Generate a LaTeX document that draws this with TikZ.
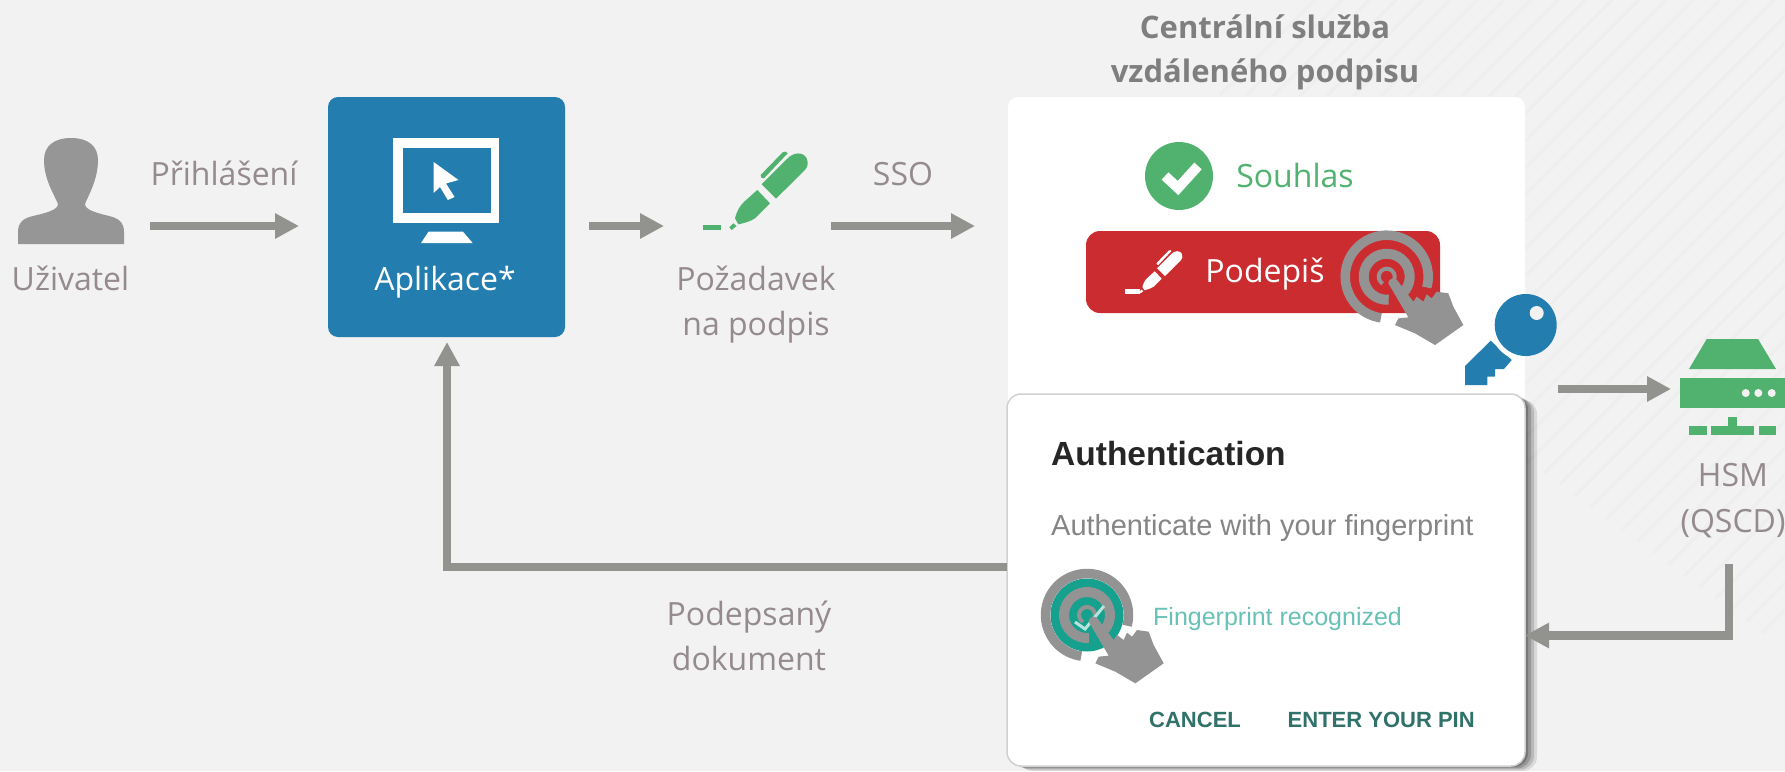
\documentclass[tikz,border=0pt]{standalone}
\usepackage{fontspec}
\usetikzlibrary{arrows.meta}
\setmainfont{Open Sans}
\newfontfamily\uifont{Liberation Sans}
\definecolor{bgc}{HTML}{F2F2F2}
\definecolor{stripec}{HTML}{EEEEEE}
\definecolor{arrowc}{HTML}{92938F}
\definecolor{labelc}{HTML}{958A8E}
\definecolor{blueb}{HTML}{237DAE}
\definecolor{greenb}{HTML}{51B26F}
\definecolor{redb}{HTML}{CB2C30}
\definecolor{personc}{HTML}{969696}
\definecolor{touchc}{HTML}{939393}
\definecolor{tealc}{HTML}{16A08E}
\definecolor{titlec}{HTML}{7F7F7F}
\tikzset{
  lab/.style={anchor=base,inner sep=0pt,text=labelc,font=\fontsize{32}{40}\selectfont},
  arr/.style={draw=arrowc,line width=8.5pt,miter limit=10,-{Triangle[length=24pt,width=24pt]}},
  ring/.style={draw=touchc,line width=#1},
  titletext/.style={anchor=base,inner sep=0pt,text=titlec,font=\fontsize{31}{40}\selectfont\bfseries},
  dlgtext/.style={anchor=base west,inner sep=0pt},
}
\newcommand{\PenIcon}[1]{%
  \fill[#1] (362,225) -- (428,157) .. controls (434,153) and (441,154) .. (443,160) -- (372,235) .. controls (366,237) and (361,232) .. (362,225) -- cycle;
  \fill[#1] (365,253) -- (440,178) .. controls (460,155) and (490,155) .. (500,175) .. controls (506,190) and (503,200) .. (495,210) -- (408,296) -- cycle;
  \fill[#1] (352,270) -- (390,310) -- (345,355) .. controls (330,365) and (310,370) .. (295,373) -- (285,355) .. controls (290,335) and (300,315) .. (315,303) -- cycle;
  \fill[#1] (268,382) -- (280,370) -- (290,378) -- (275,390) -- cycle;
  \fill[#1] (190,375) rectangle (243,390);
}
\newcommand{\TouchRings}[2]{%
  \begin{scope}[shift={(#1,#2)}]
    \draw[ring=9.5pt] (15:41.5) arc[start angle=15,end angle=-262,radius=41.5];
    \draw[ring=10pt] (40:23) arc[start angle=40,end angle=-275,radius=23];
    \draw[ring=4pt] (20:8) arc[start angle=20,end angle=-240,radius=8];
  \end{scope}%
}
\newcommand{\TouchHand}[2]{%
  \begin{scope}[shift={(#1,#2)},scale=0.3333]
    \fill[touchc] (5,20) .. controls (6,10) and (12,5) .. (20,5) .. controls (27,5) and (32,10) .. (35,15) -- (80,75) -- (90,60) -- (110,75) -- (120,53) -- (135,65) -- (150,45) -- (185,50) -- (200,90) -- (230,145) -- (145,205) -- (85,170) -- (25,145) -- (35,125) -- (65,122) -- cycle;
  \end{scope}%
}
\begin{document}
\begin{tikzpicture}[x=1pt,y=-1pt]
\useasboundingbox (0,0) rectangle (1785,771);
\fill[bgc] (0,0) rectangle (1785,771);
% background stripes
\begin{scope}
  \clip (1220,0) -- (1785,0) -- (1785,650) -- (1540,470) -- (1220,470) -- cycle;
  \foreach \c in {1315,1342,...,2420}{
    \draw[stripec,line width=3pt] (\c,0) -- (\c-800,800);
  }
\end{scope}

% ---- user
\fill[personc] (18,244) -- (18,232) .. controls (18,222) and (24,218) .. (33,216) .. controls (46,213) and (58,210) .. (58,204)
  .. controls (55,196) and (44,180) .. (44,160) .. controls (44,146) and (54,138) .. (71,138)
  .. controls (88,138) and (98,146) .. (98,160) .. controls (98,180) and (88,196) .. (85,204)
  .. controls (85,210) and (97,213) .. (109,216) .. controls (118,218) and (124,222) .. (124,232) -- (124,244) -- cycle;
\node[lab] (uzivatel) at (70.5,290.7) {Uživatel};
\node[lab] (prihlaseni) at (224,185) {Přihlášení};

% ---- application
\fill[blueb,rounded corners=10pt] (328,97) rectangle (565,337);
\fill[white] (393,138) rectangle (499,223);
\fill[blueb] (403,148) rectangle (491,213);
\fill[white] (433.6,162) -- (458.5,180) -- (446,183.5) -- (454.6,197) -- (447.8,200) -- (440,187) -- (433.6,193) -- cycle;
\fill[white] (428.6,231.7) -- (463,231.7) -- (472.6,243) -- (421,243) -- cycle;
\node[lab,text=white] (aplikace) at (445,290) {Aplikace*};

% ---- request
\begin{scope}[shift={(640,100)},scale=0.3333]
  \PenIcon{greenb}
\end{scope}
\node[lab] (pozadavek) at (756,290.5) {Požadavek};
\node[lab] (napodpis) at (756,335) {na podpis};
\node[lab] (sso) at (903,185) {SSO};

% ---- central service card
\node[titletext] (title1) at (1265,38) {Centrální služba};
\node[titletext] (title2) at (1265,82) {vzdáleného podpisu};
\fill[white,rounded corners=10pt] (1008,97) rectangle (1525,500);

\fill[greenb] (1179,176) circle[radius=34];
\draw[white,line width=10pt] (1165,176) -- (1178,188) -- (1198,166);
\node[lab,text=greenb] (souhlas) at (1295,187) {Souhlas};

\fill[redb,rounded corners=14pt] (1086,231) rectangle (1440,313);
\begin{scope}[shift={(1090.2,221.8)},scale=0.1833]
  \PenIcon{white}
\end{scope}
\fill[white] (1125,289) rectangle (1140,293.6);
\node[lab,text=white] (podepis) at (1265,282) {Podepiš};
\TouchRings{1386.7}{276.7}
\TouchHand{1386.7}{276.7}

% ---- key
\fill[blueb] (1465,366) -- (1490.7,340.7) -- (1511.7,360) -- (1504,369) -- (1495,369) -- (1495,376.7) -- (1487.3,376.7) -- (1487.3,385) -- (1465,385) -- cycle;
\begin{scope}
  \clip (1400,250) rectangle (1525,400);
  \fill[white] (1525.7,325) circle[radius=36];
\end{scope}
\fill[blueb] (1525.7,325) circle[radius=31];
\fill[bgc] (1536.7,313) circle[radius=7];

% ---- authentication dialog
\foreach \d/\o in {12/0.10,9/0.14,6/0.18,3/0.22}{
  \fill[black,opacity=\o,rounded corners=14pt] (1007+\d,394+\d*0.5) rectangle (1525+\d,766+\d*0.4);
}
\filldraw[fill=white,draw=black!18,line width=1.5pt,rounded corners=14pt] (1007,394) rectangle (1525,766);
\node[dlgtext,text=black!85,font=\uifont\bfseries\fontsize{33.5}{40}\selectfont] (auth) at (1051,465) {Authentication};
\node[dlgtext,text=black!48,font=\uifont\fontsize{29}{36}\selectfont] (authsub) at (1051,535) {Authenticate with your fingerprint};
\node[dlgtext,text=tealc!65,font=\uifont\fontsize{25}{30}\selectfont] (recog) at (1153,625) {Fingerprint recognized};
\node[dlgtext,text=tealc!55!black!85,font=\uifont\bfseries\fontsize{22}{28}\selectfont] (cancel) at (1149,727) {CANCEL};
\node[dlgtext,text=tealc!55!black!85,font=\uifont\bfseries\fontsize{22}{28}\selectfont] (enter) at (1287.5,727) {ENTER YOUR PIN};
\fill[tealc] (1087,615) circle[radius=36.5];
\TouchRings{1087}{615}
\draw[white!70!tealc,line width=3pt] (1075,622) -- (1085,629) -- (1104,606);
\TouchHand{1087}{615}

% ---- HSM
\fill[greenb] (1706.7,339) -- (1758,339) -- (1776,369) -- (1689,369) -- cycle;
\fill[greenb] (1680,378) rectangle (1785,408);
\fill[bgc] (1745.7,393) circle[radius=4] (1758.3,393) circle[radius=4] (1771.7,393) circle[radius=4];
\fill[greenb] (1689,426) rectangle (1707,434.6);
\fill[greenb] (1711,426) rectangle (1754,434.6);
\fill[greenb] (1759,426) rectangle (1776,434.6);
\fill[greenb] (1728,417) rectangle (1737,426);
\node[lab] (hsm) at (1733,486.7) {HSM};
\node[lab] (qscd) at (1733,532) {(QSCD)};
\node[lab] (podepsany) at (749,625) {Podepsaný};
\node[lab] (dokument) at (749,670) {dokument};

% ---- connectors
\coordinate (a1s) at (150,226); \coordinate (a1e) at (299,226);
\coordinate (a2s) at (589,226);   \coordinate (a2e) at (664,226);
\coordinate (a3s) at (831,226);   \coordinate (a3e) at (975,226);
\coordinate (a4s) at (1558,389);\coordinate (a4e) at (1671,389);
\coordinate (a5s) at (1729,564);  \coordinate (a5c) at (1729,635.5); \coordinate (a5e) at (1525,635.5);
\coordinate (a6s) at (1007,567);  \coordinate (a6c) at (447,567);  \coordinate (a6e) at (447,342);
\draw[arr] (a1s) -- (a1e);
\draw[arr] (a2s) -- (a2e);
\draw[arr] (a3s) -- (a3e);
\draw[arr] (a4s) -- (a4e);
\draw[arr] (a5s) -- (a5c) -- (a5e);
\draw[arr] (a6s) -- (a6c) -- (a6e);
\end{tikzpicture}
\end{document}
